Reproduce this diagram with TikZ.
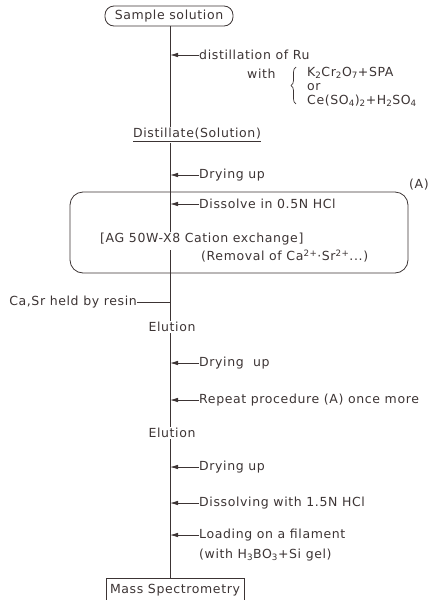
\documentclass[tikz,border=0pt]{standalone}
\usepackage{fontspec}
\setmainfont[LetterSpace=5]{DejaVu Sans}
\usetikzlibrary{arrows.meta,decorations.pathreplacing}
\definecolor{ink}{HTML}{3C3434}
\begin{document}
\begin{tikzpicture}[x=1pt,y=-1pt, font=\fontsize{12.5}{14}\selectfont,
  lbl/.style={inner sep=0pt, anchor=west, text=ink},
  ctr/.style={inner sep=1pt, text=ink},
  feed/.style={draw=ink, line width=0.8pt, -{Latex[length=8pt,width=4.5pt]}},
  flow/.style={draw=ink, line width=0.9pt}]
\useasboundingbox (0,0) rectangle (433,600);
\coordinate (m) at (170,0);
\node[draw=ink, line width=0.8pt, rounded corners=9pt, minimum height=20pt, minimum width=128pt, text=ink, inner sep=2pt] (sample) at (169,16) {Sample solution};
\node[lbl] (t1) at (199,55) {distillation of Ru};
\node[lbl] (with) at (247,74) {with};
\node[lbl] (r1) at (307,73) {K\textsubscript{2}Cr\textsubscript{2}O\textsubscript{7}+SPA};
\node[lbl] (r2) at (307,87) {or};
\node[lbl] (r3) at (307,101) {Ce(SO\textsubscript{4})\textsubscript{2}+H\textsubscript{2}SO\textsubscript{4}};
\draw[ink, line width=0.7pt, decorate, decoration={brace, amplitude=5pt}] (296,104) -- (296,67);
\node[ctr] (dist) at (197,135) {\underline{Distillate(Solution)}};
\node[lbl] (t2) at (199,175) {Drying up};
\draw[ink, line width=0.8pt, rounded corners=13pt] (70,192) rectangle (408,273);
\node[ctr] (A) at (419,185) {(A)};
\node[lbl] (t3) at (199,204) {Dissolve in 0.5N HCl};
\node[lbl] (ag) at (100,239) {[AG 50W-X8 Cation exchange]};
\node[lbl] (rem) at (201,256) {(Removal of Ca\textsuperscript{2+}·Sr\textsuperscript{2+}...)};
\node[lbl, anchor=east] (ca) at (137,302) {Ca,Sr held by resin};
\node[ctr] (el1) at (172,327) {Elution};
\node[lbl] (t4) at (199,363) {Drying\ \ up};
\node[lbl] (t5) at (199,400) {Repeat procedure (A) once more};
\node[ctr] (el2) at (172,433) {Elution};
\node[lbl] (t6) at (199,467) {Drying up};
\node[lbl] (t7) at (199,503) {Dissolving with 1.5N HCl};
\node[lbl] (t8) at (199,535) {Loading on a filament};
\node[lbl] (t9) at (199,555) {(with H\textsubscript{3}BO\textsubscript{3}+Si gel)};
\node[draw=ink, line width=0.8pt, minimum width=138pt, minimum height=24pt, inner xsep=2pt, anchor=north, text=ink] (ms) at (175,578) {Mass Spectrometry};
\coordinate (agtop) at (170,232);
\coordinate (agbot) at (170,250);
\draw[flow] (sample.south -| m) -- (dist.north -| m);
\draw[flow] (dist.south -| m) -- (agtop);
\draw[flow] (agbot) -- (el1.north -| m);
\draw[flow] (el1.south -| m) -- (el2.north -| m);
\draw[flow] (el2.south -| m) -- (ms.north -| m);
\draw[flow] (ca.east) -- (ca.east -| m);
\foreach \t in {t1,t2,t3,t4,t5,t6,t7,t8}
  \draw[feed] (\t.west) -- (\t.west -| m);
\end{tikzpicture}
\end{document}
